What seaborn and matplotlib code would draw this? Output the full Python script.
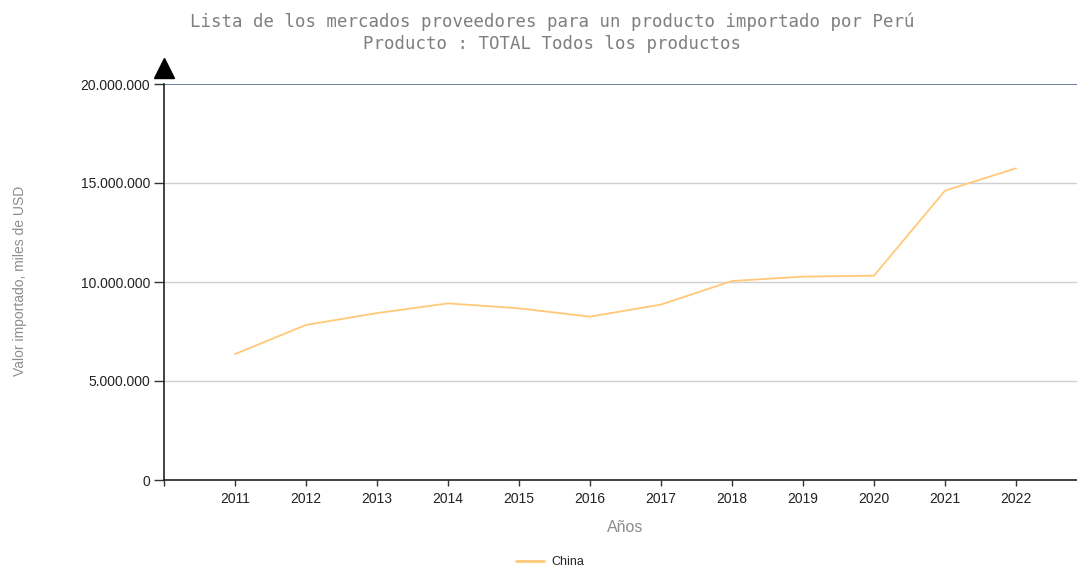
import numpy as np
import pandas as pd
import seaborn as sns
from matplotlib import pyplot as plt
from matplotlib.ticker import FuncFormatter

years = [2011, 2012, 2013, 2014, 2015, 2016, 2017, 2018, 2019, 2020, 2021, 2022]
china = [6.36e6, 7.83e6, 8.43e6, 8.92e6, 8.67e6, 8.25e6, 8.86e6, 10.05e6, 10.27e6, 10.32e6, 14.61e6, 15.74e6]
series_name = 'China'
yticks = [0, 5e6, 10e6, 15e6, 20e6]

df = pd.DataFrame({'year': years, 'value': china, 'pais': series_name})

sns.set_style('white')
plt.rcParams['font.family'] = ['Liberation Sans', 'DejaVu Sans']

fig = plt.figure(figsize=(10.77, 5.68), dpi=100)
ax = fig.add_axes([164 / 1077, 1 - 480 / 568, 913 / 1077, 396 / 568])

sns.lineplot(data=df, x='year', y='value', hue='pais', palette=['#FFC978'],
             linewidth=1.3, ax=ax, legend=False)

ax.set_xlim(2010, 2022.86)
ax.set_ylim(0, 20e6)
ax.set_xticks([2010] + years)
ax.set_xticklabels([''] + [str(y) for y in years])
ax.set_yticks(yticks)
ax.yaxis.set_major_formatter(FuncFormatter(lambda v, p: f'{int(v):,}'.replace(',', '.')))
ax.tick_params(axis='both', direction='out', bottom=True, left=True, width=1,
               color='#333333', labelsize=10, labelcolor='#222222')
ax.tick_params(axis='y', length=7, pad=3)
ax.tick_params(axis='x', length=4.5, pad=4)

for v in yticks[1:-1]:
    ax.axhline(v, color='#CFCFCF', lw=1, zorder=0)
ax.axhline(yticks[-1], color='#4F6A8F', lw=1.2, zorder=0)

for s in ['top', 'right']:
    ax.spines[s].set_visible(False)
ax.spines['left'].set_color('#222222')
ax.spines['bottom'].set_color('#222222')
ax.spines['left'].set_linewidth(1.2)
ax.spines['bottom'].set_linewidth(1.2)
ax.plot([0], [1.04], marker='^', markersize=15, color='black',
        transform=ax.transAxes, clip_on=False)

ax.set_xlabel('Años', color='#8C8C8C', fontsize=11.5)
ax.xaxis.set_label_coords((625 - 164) / 913, -(527 - 480) / 396)
ax.xaxis.label.set_va('center')
ax.set_ylabel('Valor importado, miles de USD', color='#8C8C8C', fontsize=10)
ax.yaxis.set_label_coords(-(164 - 20) / 913, (480 - 281) / 396)
ax.yaxis.label.set_va('center')

fig.text(552 / 1077, 1 - 22 / 568, 'Lista de los mercados proveedores para un producto importado por Perú',
         ha='center', va='center', fontsize=12.5, color='#7F7F7F', family='DejaVu Sans Mono')
fig.text(552 / 1077, 1 - 44 / 568, 'Producto : TOTAL Todos los productos',
         ha='center', va='center', fontsize=12.5, color='#7F7F7F', family='DejaVu Sans Mono')

ax.plot([], [], color='#FFC978', lw=2, label=series_name)
fig.legend(loc='center', bbox_to_anchor=(550 / 1077, 1 - 562 / 568), frameon=False,
           fontsize=9, handlelength=2.2, handletextpad=0.6)

fig.savefig('out.png', dpi=100)
